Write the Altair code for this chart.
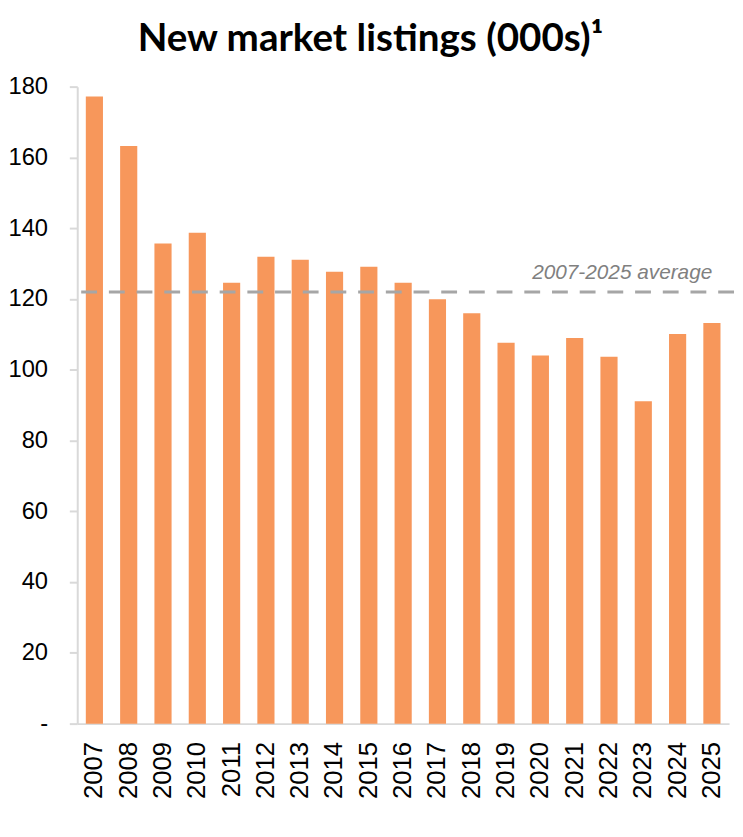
import altair as alt
import pandas as pd

years = ["2007", "2008", "2009", "2010", "2011", "2012", "2013", "2014", "2015", "2016",
         "2017", "2018", "2019", "2020", "2021", "2022", "2023", "2024", "2025"]
listings = [177.2, 163.2, 135.7, 138.7, 124.6, 131.9, 131.1, 127.7, 129.1, 124.6,
            119.9, 116.0, 107.6, 104.0, 109.0, 103.7, 91.1, 110.1, 113.2]
average_value = [122]
average_label = ["2007-2025 average"]
y_ticks = [0, 20, 40, 60, 80, 100, 120, 140, 160, 180]

df = pd.DataFrame({"year": years, "listings": listings})
avg_df = pd.DataFrame({"listings": average_value, "label": average_label})

x_enc = alt.X(
    "year:N", sort=years, title=None,
    scale=alt.Scale(paddingInner=0.5, paddingOuter=0.25),
    axis=alt.Axis(labelAngle=-90, labelAlign="right", labelBaseline="middle",
                  labelPadding=18, ticks=False),
)
y_enc = alt.Y(
    "listings:Q", title=None,
    scale=alt.Scale(domain=[0, 180], nice=False),
    axis=alt.Axis(values=y_ticks, labelExpr="datum.value == 0 ? '-' : datum.label",
                  grid=False, tickSize=8, labelPadding=22),
)

bars = alt.Chart(df).mark_bar(color="#F7975B").encode(x=x_enc, y=y_enc)

rule = alt.Chart(avg_df).mark_rule(
    color="#A6A6A6", strokeWidth=3, strokeDash=[16, 12], clip=False
).encode(y=alt.Y("listings:Q", title=None), x=alt.value(4), x2=alt.value(665))

text = alt.Chart(avg_df).mark_text(
    align="right", baseline="alphabetic", dy=-13, fontStyle="italic",
    fontSize=21, font="Liberation Sans", color="#808080"
).encode(y=alt.Y("listings:Q", title=None), x=alt.value(642), text="label:N")

chart = alt.layer(bars, rule, text).properties(
    width=659, height=644,
    padding={"left": 70, "top": 75, "right": 6, "bottom": 100},
    autosize=alt.AutoSizeParams(type="none"),
    title=alt.TitleParams("New market listings (000s)¹", font="Lato", fontSize=39,
                          fontWeight="bold", color="#000000", offset=16, dx=-33,
                          anchor="middle"),
).configure_view(stroke=None).configure_axis(
    domainColor="#D9D9D9", domainWidth=2, tickColor="#D9D9D9", tickWidth=2,
    labelFont="Liberation Sans", labelColor="#000000", grid=False,
).configure_axisX(labelFontSize=26).configure_axisY(labelFontSize=24)

chart.save("out.html", embed_options={"renderer": "svg", "actions": False})
